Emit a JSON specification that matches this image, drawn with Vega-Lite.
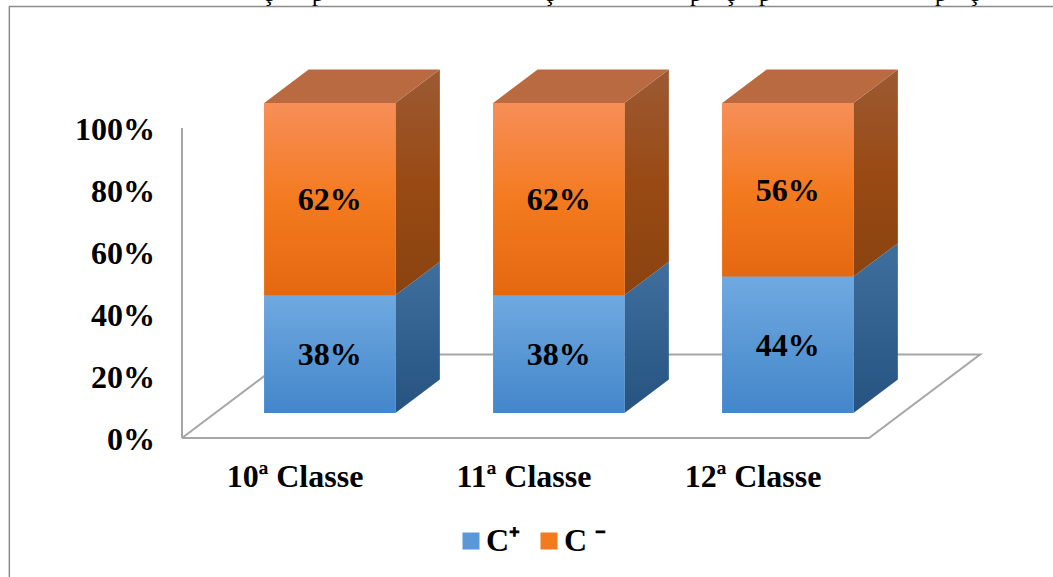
{
  "$schema": "https://vega.github.io/schema/vega-lite/v6.json",
  "width": 1053,
  "height": 577,
  "padding": 0,
  "autosize": {"type": "none"},
  "background": "white",
  "view": {"stroke": null},
  "config": {"font": "Liberation Serif"},
  "datasets": {
    "proporcoes": [
      {"classe": "10ª Classe", "serie": "C⁺", "valor": 38},
      {"classe": "10ª Classe", "serie": "C ⁻", "valor": 62},
      {"classe": "11ª Classe", "serie": "C⁺", "valor": 38},
      {"classe": "11ª Classe", "serie": "C ⁻", "valor": 62},
      {"classe": "12ª Classe", "serie": "C⁺", "valor": 44},
      {"classe": "12ª Classe", "serie": "C ⁻", "valor": 56}
    ],
    "piso": [
      {"u": 0, "d": 0, "ordem": 0},
      {"u": 3, "d": 0, "ordem": 1},
      {"u": 3, "d": 1, "ordem": 2},
      {"u": 0, "d": 1, "ordem": 3},
      {"u": 0, "d": 0, "ordem": 4}
    ],
    "eixo": [{"u": 0, "de": 0, "ate": 100}],
    "moldura": [
      {"u": -0.754, "v": -44.84, "ordem": 0},
      {"u": -0.754, "v": 139.2, "ordem": 1},
      {"u": 3.81, "v": 139.2, "ordem": 2}
    ],
    "cabecalho": [
      {"glifo": "ç", "u": 0.376},
      {"glifo": "p", "u": 0.594},
      {"glifo": "ç", "u": 1.603},
      {"glifo": "p", "u": 2.245},
      {"glifo": "ç", "u": 2.393},
      {"glifo": "p", "u": 2.546},
      {"glifo": "p", "u": 3.314},
      {"glifo": "ç", "u": 3.458}
    ]
  },
  "data": {"name": "proporcoes"},
  "transform": [
    {"calculate": "datum.serie === 'C⁺' ? 0 : 1", "as": "ordemSerie"},
    {"stack": "valor", "groupby": ["classe"], "sort": [{"field": "ordemSerie", "order": "ascending"}], "as": ["y0", "y1"]},
    {"calculate": "indexof(['10ª Classe','11ª Classe','12ª Classe'], datum.classe)", "as": "i"},
    {"calculate": "datum.i + 0.5 - 0.2865", "as": "esq"},
    {"calculate": "datum.i + 0.5 + 0.2865", "as": "dir"},
    {"calculate": "datum.esq + 0.1455", "as": "x0"},
    {"calculate": "datum.dir + 0.1455", "as": "x1"},
    {"calculate": "datum.y0 + 8.08", "as": "base"},
    {"calculate": "datum.y1 + 8.08", "as": "topo"}
  ],
  "layer": [
    {
      "data": {"name": "moldura"},
      "mark": {"type": "line", "stroke": "#8c8c8c", "strokeWidth": 1.5},
      "encoding": {
        "x": {"field": "u", "type": "quantitative", "scale": {"domain": [-0.7948, 3.8035], "nice": false, "zero": false}},
        "y": {"field": "v", "type": "quantitative", "scale": {"domain": [-44.84, 141.29], "nice": false, "zero": false}},
        "order": {"field": "ordem"}
      }
    },
    {
      "data": {"name": "cabecalho"},
      "mark": {"type": "text", "font": "Liberation Serif", "fontSize": 24, "color": "black", "baseline": "alphabetic", "align": "center", "clip": true},
      "encoding": {
        "x": {"field": "u", "type": "quantitative", "scale": {"domain": [-0.7948, 3.8035], "nice": false, "zero": false}},
        "y": {"datum": 141, "type": "quantitative", "scale": {"domain": [-44.84, 141.29], "nice": false, "zero": false}},
        "text": {"field": "glifo"}
      }
    },
    {
      "data": {"name": "piso"},
      "transform": [
        {"calculate": "datum.u + datum.d * 0.485", "as": "px"},
        {"calculate": "datum.d * 26.94", "as": "py"}
      ],
      "mark": {"type": "line", "stroke": "#a6a6a6", "strokeWidth": 2, "strokeJoin": "miter"},
      "encoding": {
        "x": {
          "field": "px", "type": "quantitative",
          "scale": {"domain": [-0.7948, 3.8035], "nice": false, "zero": false},
          "axis": {
            "title": null, "orient": "bottom", "offset": -101, "domain": false, "ticks": false, "grid": false,
            "values": [0.5, 1.5, 2.5], "labelPadding": 0, "labelOffset": -2, "labelFont": "Liberation Serif", "labelFontWeight": "bold",
            "labelFontSize": 32, "labelColor": "black", "labelBaseline": "middle", "labelAlign": "center",
            "labelExpr": "['10ª Classe','11ª Classe','12ª Classe'][datum.value - 0.5]"
          }
        },
        "y": {
          "field": "py", "type": "quantitative",
          "scale": {"domain": [-44.84, 141.29], "nice": false, "zero": false},
          "axis": {
            "title": null, "orient": "left", "offset": -154.5, "domain": false, "ticks": false, "grid": false,
            "values": [0, 20, 40, 60, 80, 100], "labelPadding": 0, "labelOffset": 1.5, "labelFont": "Liberation Serif", "labelFontWeight": "bold",
            "labelFontSize": 32, "labelColor": "black", "labelExpr": "datum.value + '%'"
          }
        },
        "order": {"field": "ordem"}
      }
    },
    {
      "data": {"name": "eixo"},
      "mark": {"type": "rule", "stroke": "#a6a6a6", "strokeWidth": 2},
      "encoding": {
        "x": {"field": "u", "type": "quantitative", "scale": {"domain": [-0.7948, 3.8035], "nice": false, "zero": false}},
        "y": {"field": "de", "type": "quantitative", "scale": {"domain": [-44.84, 141.29], "nice": false, "zero": false}},
        "y2": {"field": "ate"}
      }
    },
    {
      "transform": [
        {"filter": "datum.serie === 'C⁺'"},
        {"calculate": "[0.3, 0.7]", "as": "d"},
        {"flatten": ["d"]},
        {"calculate": "datum.dir + datum.d * 0.485", "as": "px"},
        {"calculate": "datum.y0 + datum.d * 26.94", "as": "b2"},
        {"calculate": "datum.y1 + datum.d * 26.94", "as": "t2"}
      ],
      "mark": {"type": "area", "color": {"gradient": "linear", "x1": 0, "y1": 0, "x2": 0, "y2": 1, "stops": [{"offset": 0, "color": "#3f6f9e"}, {"offset": 1, "color": "#265380"}]}},
      "encoding": {
        "x": {"field": "px", "type": "quantitative", "scale": {"domain": [-0.7948, 3.8035], "nice": false, "zero": false}},
        "y": {"field": "t2", "type": "quantitative", "scale": {"domain": [-44.84, 141.29], "nice": false, "zero": false}},
        "y2": {"field": "b2"},
        "detail": {"field": "classe"}
      }
    },
    {
      "transform": [
        {"filter": "datum.serie === 'C ⁻'"},
        {"calculate": "[0.3, 0.7]", "as": "d"},
        {"flatten": ["d"]},
        {"calculate": "datum.dir + datum.d * 0.485", "as": "px"},
        {"calculate": "datum.y0 + datum.d * 26.94", "as": "b2"},
        {"calculate": "datum.y1 + datum.d * 26.94", "as": "t2"}
      ],
      "mark": {"type": "area", "color": {"gradient": "linear", "x1": 0, "y1": 0, "x2": 0, "y2": 1, "stops": [{"offset": 0, "color": "#9c5a33"}, {"offset": 0.5, "color": "#994a14"}, {"offset": 1, "color": "#8a430f"}]}},
      "encoding": {
        "x": {"field": "px", "type": "quantitative", "scale": {"domain": [-0.7948, 3.8035], "nice": false, "zero": false}},
        "y": {"field": "t2", "type": "quantitative", "scale": {"domain": [-44.84, 141.29], "nice": false, "zero": false}},
        "y2": {"field": "b2"},
        "detail": {"field": "classe"}
      }
    },
    {
      "transform": [
        {"filter": "datum.serie === 'C ⁻'"},
        {"calculate": "[datum.esq + 0.1455, datum.esq + 0.3395, datum.dir + 0.1455, datum.dir + 0.3395]", "as": "px"},
        {"calculate": "[datum.y1 + 8.08, datum.y1 + 8.08, datum.y1 + 8.08, datum.y1 + 18.86]", "as": "baixo"},
        {"calculate": "[datum.y1 + 8.08, datum.y1 + 18.86, datum.y1 + 18.86, datum.y1 + 18.86]", "as": "alto"},
        {"flatten": ["px", "baixo", "alto"]}
      ],
      "mark": {"type": "area", "color": "#b96a40"},
      "encoding": {
        "x": {"field": "px", "type": "quantitative", "scale": {"domain": [-0.7948, 3.8035], "nice": false, "zero": false}},
        "y": {"field": "alto", "type": "quantitative", "scale": {"domain": [-44.84, 141.29], "nice": false, "zero": false}},
        "y2": {"field": "baixo"},
        "detail": {"field": "classe"}
      }
    },
    {
      "mark": {"type": "bar"},
      "encoding": {
        "x": {"field": "x0", "type": "quantitative", "scale": {"domain": [-0.7948, 3.8035], "nice": false, "zero": false}},
        "x2": {"field": "x1"},
        "y": {"field": "topo", "type": "quantitative", "scale": {"domain": [-44.84, 141.29], "nice": false, "zero": false}},
        "y2": {"field": "base"},
        "color": {
          "field": "serie", "type": "nominal",
          "scale": {"domain": ["C⁺", "C ⁻"], "range": ["#5a98d8", "#f47a20"]},
          "legend": {
            "title": null, "orient": "none", "legendX": 455, "legendY": 525, "direction": "horizontal", "columns": 2,
            "symbolType": "square", "symbolSize": 289, "symbolStrokeWidth": 0, "labelFont": "Liberation Serif",
            "labelFontWeight": "bold", "labelFontSize": 32, "labelColor": "black", "labelOffset": -1, "columnPadding": 12
          }
        }
      }
    },
    {
      "transform": [{"filter": "datum.serie === 'C⁺'"}],
      "mark": {"type": "bar", "color": {"gradient": "linear", "x1": 0, "y1": 0, "x2": 0, "y2": 1, "stops": [{"offset": 0, "color": "#6fa9e0"}, {"offset": 1, "color": "#4386ca"}]}},
      "encoding": {
        "x": {"field": "x0", "type": "quantitative", "scale": {"domain": [-0.7948, 3.8035], "nice": false, "zero": false}},
        "x2": {"field": "x1"},
        "y": {"field": "topo", "type": "quantitative", "scale": {"domain": [-44.84, 141.29], "nice": false, "zero": false}},
        "y2": {"field": "base"}
      }
    },
    {
      "transform": [{"filter": "datum.serie === 'C ⁻'"}],
      "mark": {"type": "bar", "color": {"gradient": "linear", "x1": 0, "y1": 0, "x2": 0, "y2": 1, "stops": [{"offset": 0, "color": "#f68f58"}, {"offset": 0.5, "color": "#f47a20"}, {"offset": 1, "color": "#e4680f"}]}},
      "encoding": {
        "x": {"field": "x0", "type": "quantitative", "scale": {"domain": [-0.7948, 3.8035], "nice": false, "zero": false}},
        "x2": {"field": "x1"},
        "y": {"field": "topo", "type": "quantitative", "scale": {"domain": [-44.84, 141.29], "nice": false, "zero": false}},
        "y2": {"field": "base"}
      }
    },
    {
      "transform": [
        {"calculate": "datum.i + 0.5 + 0.1455", "as": "px"},
        {"calculate": "(datum.y0 + datum.y1) / 2 + 8.08", "as": "py"},
        {"calculate": "datum.valor + '%'", "as": "rotulo"}
      ],
      "mark": {"type": "text", "font": "Liberation Serif", "fontWeight": "bold", "fontSize": 32, "color": "black", "baseline": "middle", "align": "center", "dy": 1},
      "encoding": {
        "x": {"field": "px", "type": "quantitative", "scale": {"domain": [-0.7948, 3.8035], "nice": false, "zero": false}},
        "y": {"field": "py", "type": "quantitative", "scale": {"domain": [-44.84, 141.29], "nice": false, "zero": false}},
        "text": {"field": "rotulo"}
      }
    }
  ]
}
